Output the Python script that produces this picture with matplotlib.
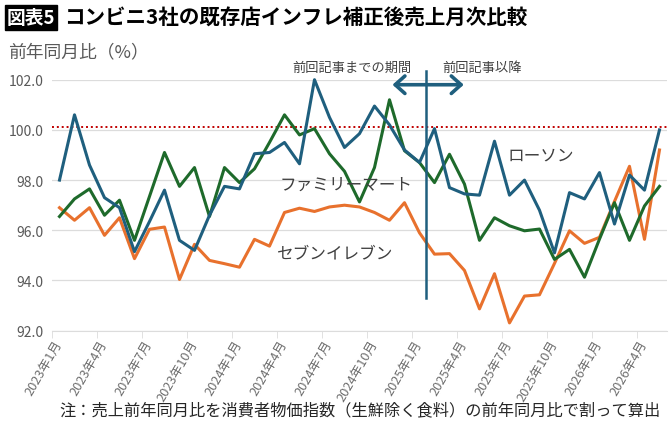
import numpy as np
import matplotlib
matplotlib.use('Agg')
import matplotlib.pyplot as plt
from matplotlib.patches import Rectangle

plt.rcParams['font.family'] = ['Noto Sans CJK JP', 'DejaVu Sans']

# 2023年1月〜2026年5月（月次、41か月）
lawson = [98.0, 100.6, 98.6, 97.3, 96.9, 95.15, 96.35, 97.6, 95.6, 95.2,
          96.6, 97.75, 97.65, 99.05, 99.1, 99.5, 98.65, 102.0, 100.5, 99.3,
          99.85, 100.95, 100.2, 99.2, 98.7, 100.05, 97.7, 97.45, 97.4, 99.55,
          97.4, 98.0, 96.8, 95.1, 97.5, 97.25, 98.3, 96.25, 98.2, 97.6, 100.0]
family = [96.55, 97.25, 97.65, 96.6, 97.2, 95.6, 97.35, 99.1, 97.75, 98.5,
          96.55, 98.5, 97.9, 98.45, 99.5, 100.6, 99.8, 100.05, 99.05, 98.35,
          97.13, 98.5, 101.2, 99.17, 98.7, 97.9, 99.03, 97.84, 95.6, 96.5,
          96.18, 95.98, 96.05, 94.84, 95.24, 94.13, 95.65, 97.1, 95.6, 96.97, 97.75]
seven = [96.9, 96.4, 96.9, 95.8, 96.5, 94.87, 96.04, 96.13, 94.04, 95.44,
         94.8, 94.67, 94.53, 95.64, 95.37, 96.71, 96.88, 96.75, 96.93, 97.0,
         96.93, 96.71, 96.4, 97.1, 95.9, 95.05, 95.07, 94.4, 92.87, 94.27,
         92.31, 93.38, 93.43, 94.68, 95.98, 95.48, 95.72, 97.15, 98.55, 95.64, 99.2]

tick_labels = ['2023年1月', '2023年4月', '2023年7月', '2023年10月',
               '2024年1月', '2024年4月', '2024年7月', '2024年10月',
               '2025年1月', '2025年4月', '2025年7月', '2025年10月',
               '2026年1月', '2026年4月']
yticks = [92, 94, 96, 98, 100, 102]
ref_level = 100.1     # 赤い点線
divider = 24.45       # 前回記事の区切り

c_lawson = '#1f5f7e'
c_family = '#1e6a2b'
c_seven = '#e8712d'
gray = '#595959'

x = np.arange(len(lawson))

fig = plt.figure(figsize=(6.7, 4.27), dpi=100)
ax = fig.add_axes([0.0776, 0.2232, 0.9179, 0.5878])

ax.set_xlim(-0.5, len(lawson) - 0.5)
ax.set_ylim(92, 102)
ax.set_yticks(yticks)
ax.set_yticklabels(['%.1f' % v for v in yticks])
ax.grid(axis='y', color='#dcdcdc', lw=0.9)
ax.set_axisbelow(True)
for s in ['top', 'right', 'left']:
    ax.spines[s].set_visible(False)
ax.spines['bottom'].set_color('#dcdcdc')
ax.tick_params(axis='y', length=0, labelsize=10, labelcolor=gray, pad=6)

ax.set_xticks(x[::3])
ax.set_xticklabels(tick_labels, rotation=60, ha='right', va='center',
                   rotation_mode='anchor')
ax.set_xticks(np.arange(-0.5, len(lawson) - 1, 3), minor=True)
ax.tick_params(axis='x', which='major', length=0, labelsize=9.2,
               labelcolor='#6e6e6e', pad=7)
ax.tick_params(axis='x', which='minor', length=5, color='#dcdcdc')

ax.axhline(ref_level, color='#c00000', ls=(0, (1, 1.5)), lw=1.4)

ax.plot(x, seven, color=c_seven, lw=2.2, clip_on=False)
ax.plot(x, family, color=c_family, lw=2.2, clip_on=False)
ax.plot(x, lawson, color=c_lawson, lw=2.2, clip_on=False)

# 区切り線と矢印
ax.plot([divider, divider], [93.3, 102.35], color=c_lawson, lw=1.8, clip_on=False)
ax.annotate('', xy=(22.2, 101.8), xytext=(26.95, 101.8),
            arrowprops=dict(arrowstyle='<->,head_length=0.5,head_width=0.45',
                            color=c_lawson, lw=2.6, mutation_scale=14,
                            shrinkA=0, shrinkB=0),
            annotation_clip=False)
ax.text(19.5, 102.5, '前回記事までの期間', ha='center', va='center',
        fontsize=9.5, color='#404040', clip_on=False)
ax.text(28.2, 102.5, '前回記事以降', ha='center', va='center',
        fontsize=9.5, color='#404040', clip_on=False)

ax.text(32.1, 99.0, 'ローソン', ha='center', va='center', fontsize=12,
        color='#404040')
ax.text(19.1, 97.85, 'ファミリーマート', ha='center', va='center', fontsize=12,
        color='#404040')
ax.text(18.4, 95.1, 'セブンイレブン', ha='center', va='center', fontsize=12,
        color='#404040')

# タイトル
fig.patches.append(Rectangle((5 / 670, 1 - 31 / 427), 52 / 670, 25 / 427,
                             transform=fig.transFigure, color='black'))
fig.text(31 / 670, 1 - 18.5 / 427, '図表5', color='white', fontsize=13.5,
         fontweight='bold', ha='center', va='center')
fig.text(64 / 670, 1 - 18.5 / 427, 'コンビニ3社の既存店インフレ補正後売上月次比較',
         fontsize=14.8, fontweight='bold', ha='left', va='center')
fig.text(8 / 670, 1 - 52 / 427, '前年同月比（%）', fontsize=12.8, color=gray,
         ha='left', va='center')
fig.text(360 / 670, 1 - 411 / 427,
         '注：売上前年同月比を消費者物価指数（生鮮除く食料）の前年同月比で割って算出',
         fontsize=11.7, color='#262626', ha='center', va='center')

fig.savefig('out.png', dpi=100)
